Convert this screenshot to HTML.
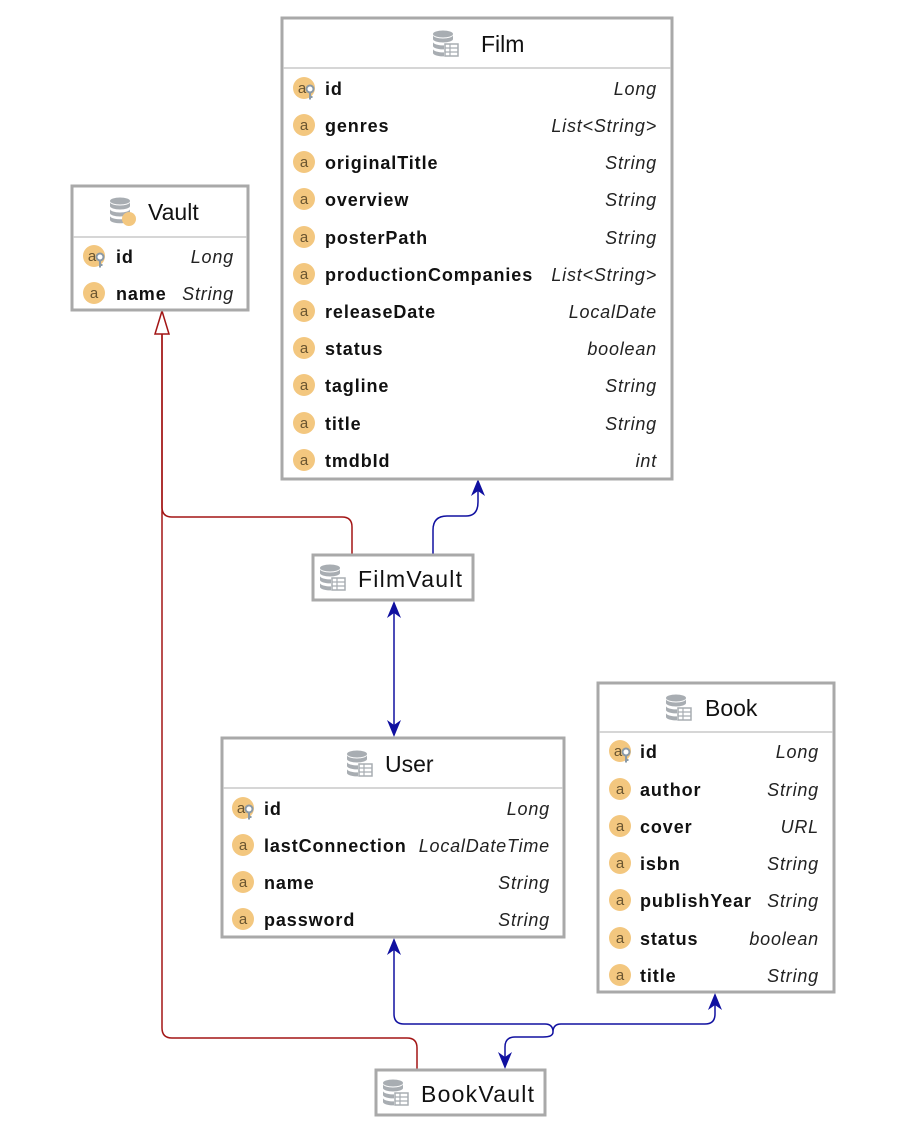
<!DOCTYPE html>
<html><head><meta charset="utf-8">
<style>
html,body{margin:0;padding:0;background:#fff;}
svg{display:block;}
.t{font-family:"Liberation Sans",sans-serif;font-size:23px;fill:#111;}
.n{font-family:"Liberation Sans",sans-serif;font-size:18px;letter-spacing:0.9px;font-weight:bold;fill:#111;}
.ty{font-family:"Liberation Sans",sans-serif;font-size:18px;letter-spacing:0.8px;font-style:italic;fill:#222;text-anchor:end;}
.a{font-family:"Liberation Sans",sans-serif;font-size:15px;fill:#6a5530;text-anchor:middle;}
</style></head><body>
<svg width="916" height="1141" viewBox="0 0 916 1141" xmlns="http://www.w3.org/2000/svg">
<defs>
<g id="db">
<ellipse cx="10" cy="3" rx="10" ry="3.5" fill="#a8adb2"/>
<path d="M0 4 v4 a10 3.5 0 0 0 20 0 v-4 a10 3.5 0 0 1 -20 0z" fill="#a8adb2"/>
<path d="M0 11 v4 a10 3.5 0 0 0 11 3.4 v-4 a10 3.5 0 0 1 -11 -3.4z" fill="#a8adb2"/>
<path d="M0 18 v4 a10 3.5 0 0 0 11 3.4 v-4 a10 3.5 0 0 1 -11 -3.4z" fill="#a8adb2"/>
<rect x="12" y="13" width="13" height="12" fill="#fff" stroke="#a8adb2" stroke-width="1.5"/>
<path d="M12 17h13M12 21h13M17 13v12" stroke="#a8adb2" stroke-width="1.2"/>
</g>
<g id="at"><circle cx="0" cy="0" r="11" fill="#f3c77f"/><text class="a" x="0" y="5">a</text></g>
<g id="key"><circle cx="0" cy="0" r="11" fill="#f3c77f"/><text class="a" x="-2" y="5">a</text><circle cx="6" cy="1" r="3.5" fill="#fff" stroke="#8a99a6" stroke-width="2"/><path d="M6 4.5v7M6 9h2.5" stroke="#8a99a6" stroke-width="2"/></g>
</defs>

<g fill="none" stroke-width="1.5">
<path d="M352 554 V527 q0 -10 -10 -10 H172 q-10 0 -10 -10 V333" stroke="#a31515"/>
<path d="M417 1069 V1048 q0 -10 -10 -10 H172 q-10 0 -10 -10 V333" stroke="#a31515"/>
<path d="M162 311 L155 334 H169 Z" fill="#fff" stroke="#a31515"/>
<path d="M433 554 V530 q0 -14 14 -14 H466 q12 0 12 -14 V490" stroke="#1010a0"/>
<path d="M394 612 V726" stroke="#1010a0"/>
<path d="M394 950 V1014 q0 10 10 10 H545 q8 0 8 8 q0 -8 8 -8 H705 q10 0 10 -10 V1004" stroke="#1010a0"/>
<path d="M553 1032 q0 5 -10 5 H515 q-10 0 -10 10 V1058" stroke="#1010a0"/>
</g>
<g fill="#1010a0">
<path d="M478 479 l-7 17 l7 -5 l7 5z"/>
<path d="M394 601 l-7 17 l7 -5 l7 5z"/>
<path d="M394 737 l-7 -17 l7 5 l7 -5z"/>
<path d="M394 938 l-7 17 l7 -5 l7 5z"/>
<path d="M715 993 l-7 17 l7 -5 l7 5z"/>
<path d="M505 1069 l-7 -17 l7 5 l7 -5z"/>
</g>

<rect x="282" y="18" width="390" height="461" fill="#fff" stroke="#a9a9a9" stroke-width="3"/>
<line x1="283" y1="68" x2="671" y2="68" stroke="#c8c8c8" stroke-width="1.5"/>
<use href="#db" x="433" y="31"/><text class="t" x="481" y="52">Film</text>
<use href="#key" x="304" y="88"/><text class="n" x="325" y="95">id</text><text class="ty" x="657" y="95">Long</text>
<use href="#at" x="304" y="125"/><text class="n" x="325" y="132">genres</text><text class="ty" x="657" y="132">List&lt;String&gt;</text>
<use href="#at" x="304" y="162"/><text class="n" x="325" y="169">originalTitle</text><text class="ty" x="657" y="169">String</text>
<use href="#at" x="304" y="199"/><text class="n" x="325" y="206">overview</text><text class="ty" x="657" y="206">String</text>
<use href="#at" x="304" y="237"/><text class="n" x="325" y="244">posterPath</text><text class="ty" x="657" y="244">String</text>
<use href="#at" x="304" y="274"/><text class="n" x="325" y="281">productionCompanies</text><text class="ty" x="657" y="281">List&lt;String&gt;</text>
<use href="#at" x="304" y="311"/><text class="n" x="325" y="318">releaseDate</text><text class="ty" x="657" y="318">LocalDate</text>
<use href="#at" x="304" y="348"/><text class="n" x="325" y="355">status</text><text class="ty" x="657" y="355">boolean</text>
<use href="#at" x="304" y="385"/><text class="n" x="325" y="392">tagline</text><text class="ty" x="657" y="392">String</text>
<use href="#at" x="304" y="423"/><text class="n" x="325" y="430">title</text><text class="ty" x="657" y="430">String</text>
<use href="#at" x="304" y="460"/><text class="n" x="325" y="467">tmdbId</text><text class="ty" x="657" y="467">int</text>

<rect x="72" y="186" width="176" height="124" fill="#fff" stroke="#a9a9a9" stroke-width="3"/>
<line x1="73" y1="237" x2="247" y2="237" stroke="#c8c8c8" stroke-width="1.5"/>
<g transform="translate(110,198)"><ellipse cx="10" cy="3" rx="10" ry="3.5" fill="#a8adb2"/><path d="M0 4 v4 a10 3.5 0 0 0 20 0 v-4 a10 3.5 0 0 1 -20 0z" fill="#a8adb2"/><path d="M0 11 v4 a10 3.5 0 0 0 20 0 v-4 a10 3.5 0 0 1 -20 0z" fill="#a8adb2"/><path d="M0 18 v4 a10 3.5 0 0 0 14 3 v-4 a10 3.5 0 0 1 -14 -3z" fill="#a8adb2"/><circle cx="19" cy="21" r="7" fill="#f3c77f"/></g>
<text class="t" x="148" y="220">Vault</text>
<use href="#key" x="94" y="256"/><text class="n" x="116" y="263">id</text><text class="ty" x="234" y="263">Long</text>
<use href="#at" x="94" y="293"/><text class="n" x="116" y="300">name</text><text class="ty" x="234" y="300">String</text>

<rect x="313" y="555" width="160" height="45" fill="#fff" stroke="#a9a9a9" stroke-width="3"/>
<use href="#db" x="320" y="565"/><text class="t" x="358" y="587" textLength="104">FilmVault</text>

<rect x="222" y="738" width="342" height="199" fill="#fff" stroke="#a9a9a9" stroke-width="3"/>
<line x1="223" y1="788" x2="563" y2="788" stroke="#c8c8c8" stroke-width="1.5"/>
<use href="#db" x="347" y="751"/><text class="t" x="385" y="772">User</text>
<use href="#key" x="243" y="808"/><text class="n" x="264" y="815">id</text><text class="ty" x="550" y="815">Long</text>
<use href="#at" x="243" y="845"/><text class="n" x="264" y="852">lastConnection</text><text class="ty" x="550" y="852">LocalDateTime</text>
<use href="#at" x="243" y="882"/><text class="n" x="264" y="889">name</text><text class="ty" x="550" y="889">String</text>
<use href="#at" x="243" y="919"/><text class="n" x="264" y="926">password</text><text class="ty" x="550" y="926">String</text>

<rect x="598" y="683" width="236" height="309" fill="#fff" stroke="#a9a9a9" stroke-width="3"/>
<line x1="599" y1="732" x2="833" y2="732" stroke="#c8c8c8" stroke-width="1.5"/>
<use href="#db" x="666" y="695"/><text class="t" x="705" y="716">Book</text>
<use href="#key" x="620" y="751"/><text class="n" x="640" y="758">id</text><text class="ty" x="819" y="758">Long</text>
<use href="#at" x="620" y="789"/><text class="n" x="640" y="796">author</text><text class="ty" x="819" y="796">String</text>
<use href="#at" x="620" y="826"/><text class="n" x="640" y="833">cover</text><text class="ty" x="819" y="833">URL</text>
<use href="#at" x="620" y="863"/><text class="n" x="640" y="870">isbn</text><text class="ty" x="819" y="870">String</text>
<use href="#at" x="620" y="900"/><text class="n" x="640" y="907">publishYear</text><text class="ty" x="819" y="907">String</text>
<use href="#at" x="620" y="938"/><text class="n" x="640" y="945">status</text><text class="ty" x="819" y="945">boolean</text>
<use href="#at" x="620" y="975"/><text class="n" x="640" y="982">title</text><text class="ty" x="819" y="982">String</text>

<rect x="376" y="1070" width="169" height="45" fill="#fff" stroke="#a9a9a9" stroke-width="3"/>
<use href="#db" x="383" y="1080"/><text class="t" x="421" y="1102" textLength="113">BookVault</text>
</svg>
</body></html>
